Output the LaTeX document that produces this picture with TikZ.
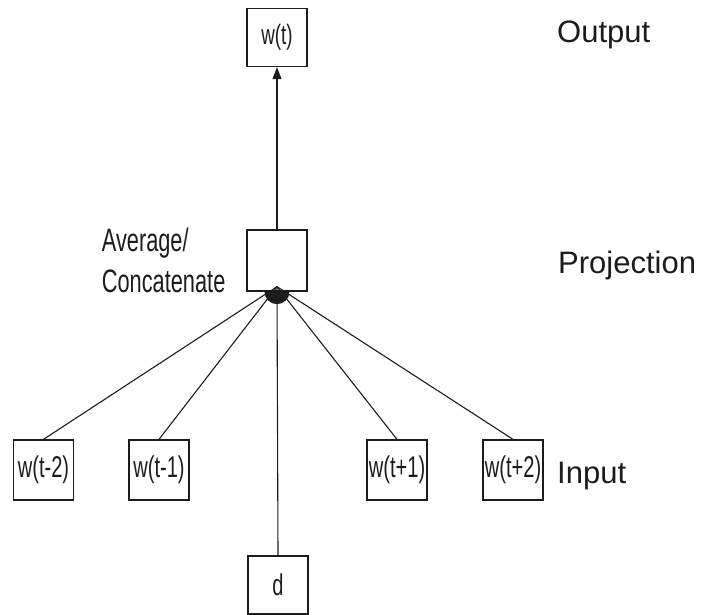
\documentclass[tikz,border=0pt]{standalone}
\usepackage{fontspec}
\usetikzlibrary{arrows.meta}
% condensed face for the word labels, plain face for the layer names
\newfontfamily\narrowfont[FakeStretch=0.67]{Liberation Sans}
\newfontfamily\plainfont{Liberation Sans}
\definecolor{ink}{HTML}{1C1C1C}
\tikzset{
  wbox/.style={draw=ink, line width=1.3pt, minimum width=60pt, minimum height=60pt,
    inner sep=0pt, text=ink, font=\narrowfont\fontsize{30}{30}\selectfont},
  layername/.style={anchor=base west, inner sep=0pt, text=ink,
    font=\plainfont\fontsize{31}{31}\selectfont},
  sidenote/.style={anchor=base west, inner sep=0pt, text=ink,
    font=\narrowfont\fontsize{32.5}{32.5}\selectfont},
  link/.style={draw=ink, line width=1.1pt}
}
\begin{document}
\begin{tikzpicture}[x=1pt, y=-1pt]
\useasboundingbox (0,0) rectangle (707,614);

% output word
\node[wbox, minimum height=58pt, font=\narrowfont\fontsize{28}{28}\selectfont] (out) at (277,37.5) {w(t)};
% projection layer
\node[wbox, minimum height=61pt] (proj) at (277,260.5) {};
% context words
\node[wbox] (wm2) at (43.5,470) {w(t-2)};
\node[wbox] (wm1) at (159,470) {w(t-1)};
\node[wbox] (wp1) at (397,470) {w(t+1)};
\node[wbox] (wp2) at (513,470) {w(t+2)};
% paragraph vector
\node[wbox, minimum height=58pt] (doc) at (278,585) {d};

% merging point under the projection box
\coordinate (hub) at ([yshift=5]proj.south);

\foreach \src in {wm2,wm1,wp1,wp2,doc}
  \draw[link] (hub) -- (\src.north);

\fill[ink] ([xshift=-12.5]proj.south) arc[start angle=180, end angle=0, x radius=12.5, y radius=12.5] -- cycle;

\draw[link, -{Triangle[width=9pt,length=12pt]}] (proj.north) -- (out.south);

% annotation beside the projection box
\node[sidenote] (avg) at (101.7,251.7) {Average/};
\node[sidenote] (concat) at (101.7,292.7) {Concatenate};

% layer names
\node[layername] (lout) at (557,42) {Output};
\node[layername] (lproj) at (558,273) {Projection};
\node[layername] (lin) at (557,483) {Input};
\end{tikzpicture}
\end{document}
